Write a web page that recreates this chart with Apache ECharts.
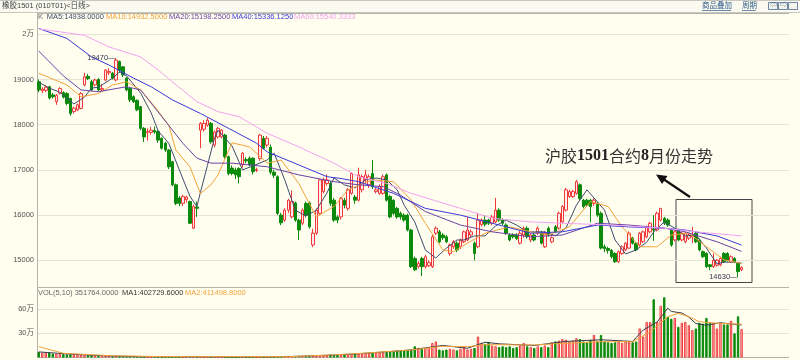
<!DOCTYPE html>
<html><head><meta charset="utf-8">
<script src="https://cdn.jsdelivr.net/npm/echarts@6/dist/echarts.min.js"></script>
<style>html,body{margin:0;padding:0;background:#FFFEEF}#c{width:800px;height:360px}</style>
</head><body><div id="c"></div>
<script>
// ---- data ----
const open = [18950,18750,18760,18840,18660,18510,18700,18710,18690,18580,
18290,18330,18360,18880,19070,18950,18880,19000,18770,18990,
19150,19140,18990,19400,19280,19030,18800,18620,18540,18400,
17920,17830,17830,17870,17850,17700,17590,17440,17180,16670,
16380,16260,16340,16300,15710,16180,17880,17900,17990,18030,
17550,17730,17730,17770,17290,17040,17000,17030,17110,17230,
17260,17260,16990,17250,17700,17550,17500,16950,16850,16000,
15890,16110,15960,16270,15890,15820,16260,16270,15340,15600,
16040,16520,16700,16700,16330,15960,15960,16330,16150,16480,
16400,16330,16560,16780,16670,16920,16520,16480,16480,16890,
16410,16330,16150,16040,16000,16000,15670,15040,14860,15040,
14860,14880,14860,15600,15630,15560,15520,15150,15300,15380,
15300,15410,15450,15560,15380,15300,15790,15890,15890,15820,
15850,16110,15890,15780,15560,15560,15560,15380,15560,15710,
15450,15560,15600,15600,15300,15710,15410,15740,15710,15850,
16110,16410,16410,16480,16670,16330,16330,16330,16260,16260,
16040,15300,15260,15220,15150,14970,15150,15230,15270,15490,
15380,15340,15410,15520,15630,15690,15670,15890,15930,15890,
15670,15450,15670,15450,15410,15490,15520,15600,15450,15190,
15150,14900,14860,14890,14900,15150,15150,14970,15040,14930,14790];
const close = [18770,18790,18830,18590,18620,18650,18800,18610,18470,18250,
18370,18440,18690,19060,19020,18770,18990,18770,18800,19210,
19180,19030,19430,19200,19100,18770,18550,18510,18330,17920,
17730,17850,17880,17840,17660,17480,17440,17070,16670,16260,
16260,16410,16400,15820,16190,16150,18030,18030,18100,17620,
17840,17920,17880,17290,16920,16920,16890,16850,17370,17200,
17110,16960,17010,17770,17480,17700,16950,16880,16040,15830,
16110,16330,16300,15890,15670,16110,16000,15740,15600,16110,
16780,16780,16780,16260,15890,15890,16370,16220,16560,16920,
16330,16890,16850,16890,16850,16630,16560,16630,16850,16330,
15960,16040,15960,15960,15890,15670,14860,14790,14930,14860,
15080,14950,15520,15710,15410,15500,15410,15340,15410,15230,
15450,15630,15670,15630,15150,15890,15890,15800,15820,15960,
16110,15890,15820,15600,15450,15520,15480,15600,15710,15520,
15560,15450,15710,15380,15600,15560,15500,15630,16040,16190,
16560,16520,16520,16740,16370,16190,16220,16190,16330,16000,
15270,15260,15220,15080,14970,15190,15300,15380,15600,15380,
15230,15600,15630,15740,15820,15670,16040,16150,15820,15780,
15340,15630,15450,15600,15600,15560,15540,15410,15230,15080,
14860,14860,15000,15000,15040,14970,15000,15080,14970,14750,14840];
const low = [18720,18700,18720,18560,18580,18440,18670,18580,18430,18200,
18250,18300,18340,18850,18990,18740,18850,18740,18740,18960,
19100,19000,18960,19150,19050,18740,18500,18480,18300,17880,
17620,17650,17780,17800,17600,17450,17400,17020,16640,16220,
16200,16200,16280,15800,15690,15960,17480,17850,17950,17580,
17500,17700,17700,17250,16880,16880,16800,16700,17050,17150,
17080,16900,16950,17200,17450,17500,16900,16820,16000,15780,
15850,16050,15930,15850,15450,15780,15950,15700,15290,15560,
16000,16480,16650,16200,15850,15820,15900,16150,16100,16450,
16250,16300,16500,16700,16600,16580,16480,16450,16450,16300,
15930,16000,15920,15900,15850,15640,14830,14760,14820,14650,
14820,14850,14830,15560,15380,15450,15380,15100,15250,15180,
15250,15380,15420,15500,15000,15270,15750,15750,15780,15780,
15820,15850,15780,15560,15420,15480,15450,15350,15500,15480,
15400,15420,15560,15350,15270,15520,15380,15600,15680,15820,
16080,16380,16380,16450,16330,16150,16180,15840,16200,15960,
15240,15180,15150,15040,14940,14940,15120,15200,15250,15350,
15200,15300,15380,15490,15600,15430,15640,15860,15780,15740,
15300,15420,15420,15420,15380,15450,15380,15380,15200,15050,
14830,14780,14830,14860,14870,14940,14970,14940,14940,14630,14760];
const high = [19000,18830,18870,18860,18700,18680,18830,18740,18720,18600,
18400,18470,18720,19150,19120,18990,19020,19030,18900,19230,
19250,19170,19470,19420,19300,19050,18820,18650,18560,18420,
17950,17920,17950,17960,17880,17720,17620,17460,17200,16700,
16420,16450,16430,16320,16230,16300,18060,18100,18150,18060,
17870,17950,17900,17800,17320,17100,17050,17060,17400,17280,
17300,17280,17050,17800,17750,17750,17560,17000,16880,16050,
16150,16360,16550,16300,15920,16150,16300,16300,15700,16150,
16800,16830,16900,16750,16380,16000,16400,16380,16600,16950,
16450,17050,16900,17000,16900,17220,16600,16680,16900,16920,
16450,16350,16180,16080,16040,16030,15700,15080,14980,15080,
15120,15000,15560,15750,15670,15600,15560,15370,15450,15420,
15480,15660,15960,15680,15420,16050,15930,16000,15920,16000,
16380,16150,15930,15820,15600,15600,15600,15650,15750,15750,
15600,15600,15750,15650,15650,15750,15530,15780,16080,16220,
16600,16560,16560,16780,16700,16360,16360,16360,16370,16290,
16080,15350,15300,15250,15180,15220,15330,15400,15640,15520,
15400,15630,15660,15770,15850,16000,16080,16150,15960,15930,
15700,15660,15700,15630,15630,15600,15740,15630,15480,15220,
15180,14920,15150,15030,15080,15180,15180,15110,15070,14960,14870];
// volume in 万 (10k lots)
const volume = [7,6,6,6.5,5,5,4.5,4.5,4,4,
3.5,3.5,3.5,3,3,3,2.5,2.5,2,2,
2,1.5,2,1.5,1.5,1.5,1.2,1.2,1.2,1.2,
1,1,1,1,1,1,1,1,1,1.2,
1,1,1,1.2,1,1,1,1,1,1,
1,0.8,0.8,1,1,0.8,0.8,1,0.8,0.8,
0.8,0.8,0.8,1,0.8,0.8,1,1,1.2,1.2,
1.5,1.5,1.5,2,2,2,2,2,2.5,2.5,
3,3,3,3.5,3.5,3.5,4,4,4,4.5,
5,5,5,5.5,6,6,6,6.5,7,7,
8,8,9,9,9,9,9.5,14,12,12,
12,13,18,20,10,9,10,11,10,9,
11,14,10,11,12,26,18,17,19,15,
14,13,14,13,14,12,13,15,18,14,
13,12,14,13,15,13,19,20,21,23,
22,20,21,24,23,20,19,22,28,20,
28,20,19,18,19,20,18,20,20,19,
20,36,26,44,44,72,44,64,74.5,50,
48,49,38,43,44,40,34,36,43,42,
49,43,43,36,43,41,41,45.5,30,51,35.18];
// moving-average lines as [candle index, value]
const ma5 = [[0,18940],[3,18810],[6,18720],[10,18460],[13,18610],[15,18810],[17,18830],[21,19030],[23,19170],[25,19080],[29,18700],[32,18260],[34,17860],[37,17590],[40,17000],[43,16420],[45,16190],[46,16500],[48,17100],[50,17700],[51,17880],[55,17530],[58,17000],[61,17090],[65,17220],[67,17370],[70,16780],[73,16110],[76,15980],[79,16110],[82,16490],[84,16820],[87,16670],[90,16600],[93,16780],[96,16820],[99,16780],[102,16560],[104,16220],[107,15850],[110,15230],[113,15050],[116,15270],[119,15450],[121,15450],[124,15540],[127,15540],[130,15760],[133,15890],[136,15780],[139,15630],[141,15630],[144,15630],[147,15540],[150,15710],[153,16220],[156,16560],[158,16380],[161,16110],[164,15450],[167,15140],[170,15230],[173,15400],[175,15630],[178,15850],[181,15710],[184,15540],[187,15560],[190,15270],[193,14920],[195,14960],[198,14960],[200,14938]];
const ma10 = [[0,19140],[8,18880],[12,18620],[15,18660],[17,18690],[21,18880],[25,18950],[29,18770],[33,18400],[37,17990],[39,17440],[43,17070],[46,16480],[49,16670],[51,16890],[55,17600],[60,17510],[65,17150],[69,17220],[74,16700],[79,15960],[84,16190],[88,16560],[95,16780],[101,16740],[106,16330],[110,15820],[115,15230],[118,15190],[122,15380],[127,15600],[134,15740],[140,15630],[145,15560],[151,15740],[157,16300],[162,16190],[166,15740],[171,15300],[176,15300],[180,15560],[185,15600],[190,15300],[195,15010],[200,14932]];
const ma20 = [[0,19630],[7,19080],[12,18770],[17,18730],[22,18800],[25,18840],[29,18770],[35,18180],[41,17590],[45,17260],[49,17150],[55,17150],[65,17070],[74,16890],[84,16740],[91,16670],[98,16630],[103,16440],[110,16080],[120,15780],[129,15630],[140,15520],[149,15560],[159,15820],[168,15780],[178,15710],[184,15630],[193,15410],[200,15198]];
const ma40 = [[0,20130],[8,19910],[15,19500],[20,19320],[27,19030],[32,18840],[38,18550],[46,18250],[55,17880],[62,17590],[65,17400],[74,17110],[82,16850],[86,16810],[91,16740],[101,16480],[110,16150],[120,16000],[129,15820],[140,15600],[149,15630],[159,15780],[168,15740],[178,15710],[184,15670],[193,15540],[200,15336]];
const ma60 = [[0,20120],[13,19980],[20,19720],[29,19500],[34,19210],[38,18950],[45,18510],[51,18290],[57,18180],[65,17810],[74,17510],[84,17150],[91,16850],[99,16700],[106,16480],[120,16150],[129,15930],[140,15850],[149,15820],[163,15780],[178,15710],[187,15630],[200,15540]];
const volMa1 = [[0,7],[5,5.5],[10,4],[15,3],[20,2],[25,1.6],[30,1.1],[40,1],[55,0.9],[65,0.9],[72,1.4],[80,2.5],[90,4.5],[100,7.5],[106,9.5],[110,12],[115,15],[122,11.5],[127,19],[131,17],[141,15],[150,20],[160,22],[169,20],[172,34],[176,44],[179,61],[180,57],[183,55],[185,50],[187,42],[190,40],[194,43],[197,41.5],[200,40.3]];
const volMa2 = [[0,13.5],[7,5.3],[21,2.3],[35,1.2],[71,1.1],[83,3.2],[92,5.3],[106,9.4],[115,14],[122,13.5],[127,16],[141,15.6],[150,17.7],[160,19.6],[169,19.6],[174,32],[179,50.5],[182,54.7],[185,50.5],[188,44.3],[193,42.4],[200,41.1]];
const blankSlots = 13;
const yTickLabels = {20000:'2万',19000:'19000',18000:'18000',17000:'17000',16000:'16000',15000:'15000'};
const volTickLabels = {30:'30万',60:'60万'};
const legendMain = ['MA5:14938.0000','MA10:14932.5000','MA20:15198.2500','MA40:15336.1250','MA60:15540.3333'];
const legendVol = ['VOL(5,10) 351764.0000','MA1:402729.6000','MA2:411498.8000'];

// ---- build ----
const UP='#F03A3A', UPFILL='#FFEDED', DN='#0B8A0B', GRID='#E6E4D2', BORDER='#B4B4AA';
const MA_COLORS=['#3E4C6E','#F4A23A','#6A44A4','#3A3AD8','#F2A2F0'];
const categories=[];
for(let i=0;i<open.length+blankSlots;i++) categories.push(i<open.length?String(i+1):'');
const kData=open.map((o,i)=>[o,close[i],low[i],high[i]]);
const volData=volume.map((v,i)=>({value:v,itemStyle:close[i]>=open[i]?{color:'#FFD8D8',borderColor:UP,borderWidth:1}:{color:DN,borderColor:DN,borderWidth:1}}));
const maxHigh=Math.max(...high), hiIdx=high.indexOf(maxHigh);
const minLow=Math.min(...low), loIdx=low.indexOf(minLow);
const FONT='"Liberation Sans", Arial, "Noto Sans CJK SC", sans-serif';
function maLine(name,data,color,x,y){return {name,type:'line',xAxisIndex:x,yAxisIndex:y,data,showSymbol:false,symbol:'none',lineStyle:{width:1,color},itemStyle:{color},z:3,silent:true};}

const chart=echarts.init(document.getElementById('c'),null,{renderer:'canvas'});
const legendX=[46.7,106,169,232,294];
const gText=[];
gText.push({type:'text',left:38,top:13.5,style:{text:'K',fill:'#666',font:'7.5px '+FONT}});
legendMain.forEach((t,i)=>gText.push({type:'text',left:legendX[i],top:13.5,style:{text:t,fill:MA_COLORS[i],font:'7.5px '+FONT}}));
const volX=[38,122,185], volC=['#666','#333','#F4A23A'];
legendVol.forEach((t,i)=>gText.push({type:'text',left:volX[i],top:289,style:{text:t,fill:volC[i],font:'7.5px '+FONT}}));

const option={
  animation:false,
  backgroundColor:'#FFFEEF',
  textStyle:{fontFamily:FONT},
  grid:[{left:37,right:11,top:13,height:292.5},{left:37,right:11,top:287.1,height:70.5}],
  xAxis:[
    {type:'category',gridIndex:0,data:categories,axisLine:{show:false},axisTick:{show:false},axisLabel:{show:false},splitLine:{show:false}},
    {type:'category',gridIndex:1,data:categories,axisLine:{show:false},axisTick:{show:false},axisLabel:{show:false},splitLine:{show:false}}
  ],
  yAxis:[
    {type:'value',gridIndex:0,min:14000,max:20472,interval:1000,
     axisLine:{show:true,lineStyle:{color:BORDER}},axisTick:{show:false},
     axisLabel:{fontSize:7.5,color:'#555',margin:3,formatter:v=>yTickLabels[v]||''},
     splitLine:{show:true,lineStyle:{width:1,color:['rgba(0,0,0,0)',GRID,GRID,GRID,GRID,GRID,GRID,BORDER]}}},
    {type:'value',gridIndex:1,min:0,max:87,interval:30,
     axisLine:{show:true,lineStyle:{color:BORDER}},axisTick:{show:false},
     axisLabel:{fontSize:7.5,color:'#555',margin:3,formatter:v=>volTickLabels[v]||''},
     splitLine:{show:true,lineStyle:{width:1,color:[BORDER,GRID,GRID,BORDER]}}}
  ],
  series:[
    {type:'candlestick',name:'K',xAxisIndex:0,yAxisIndex:0,data:kData,barWidth:3,
     itemStyle:{color:UPFILL,color0:DN,borderColor:UP,borderColor0:DN,borderWidth:1},
     markPoint:{symbol:'circle',symbolSize:1,itemStyle:{color:'rgba(0,0,0,0)'},
       label:{show:true,position:'left',distance:0,fontSize:7.5,color:'#333355',formatter:p=>p.value+'—'},
       data:[{coord:[hiIdx,maxHigh],value:maxHigh},{coord:[loIdx,minLow],value:minLow}]}},
    maLine('MA5',ma5,MA_COLORS[0],0,0),
    maLine('MA10',ma10,MA_COLORS[1],0,0),
    maLine('MA20',ma20,MA_COLORS[2],0,0),
    maLine('MA40',ma40,MA_COLORS[3],0,0),
    maLine('MA60',ma60,MA_COLORS[4],0,0),
    {type:'bar',name:'VOL',xAxisIndex:1,yAxisIndex:1,data:volData,barWidth:2.4},
    maLine('MA1',volMa1,'#3A3A4A',1,1),
    maLine('MA2',volMa2,'#F4A23A',1,1)
  ],
  graphic:[
    {type:'rect',shape:{x:0,y:0,width:800,height:12.5},style:{fill:'#FAFAF0'},z:-1},
    {type:'line',shape:{x1:0,y1:0.5,x2:800,y2:0.5},style:{stroke:'#C8C8C0',lineWidth:1}},
    {type:'line',shape:{x1:0,y1:12.5,x2:800,y2:12.5},style:{stroke:'#C8C8C0',lineWidth:1}},
    {type:'text',left:2,top:2,style:{text:'橡胶1501 (010T01)<日线>',fill:'#444',font:'7.5px '+FONT}},
    {type:'text',left:702,top:2,style:{text:'商品叠加',fill:'#2E5A8A',font:'7.5px '+FONT}},
    {type:'line',shape:{x1:702,y1:10.5,x2:731,y2:10.5},style:{stroke:'#2E5A8A',lineWidth:0.7}},
    {type:'text',left:742,top:2,style:{text:'周期',fill:'#2E5A8A',font:'7.5px '+FONT}},
    {type:'line',shape:{x1:742,y1:10.5,x2:756,y2:10.5},style:{stroke:'#2E5A8A',lineWidth:0.7}},
    {type:'rect',shape:{x:768.5,y:2.5,width:9,height:7},style:{fill:'#F4F4EC',stroke:'#4A6A90',lineWidth:0.8}},
    {type:'rect',shape:{x:778.5,y:2.5,width:9,height:7},style:{fill:'#F4F4EC',stroke:'#4A6A90',lineWidth:0.8}},
    {type:'rect',shape:{x:788.5,y:2.5,width:9,height:7},style:{fill:'#F4F4EC',stroke:'#4A6A90',lineWidth:0.8}},
    {type:'text',left:770,top:2,style:{text:'⇦',fill:'#4A6A90',font:'7px '+FONT}},
    {type:'text',left:780,top:2,style:{text:'⇨',fill:'#4A6A90',font:'7px '+FONT}},
    ...gText,
    {type:'text',left:545,top:148,style:{rich:{n:{fontSize:16,fontFamily:'"Noto Sans CJK SC"',fill:'#333'},b:{fontSize:16,fontWeight:'bold',fontFamily:'"Liberation Serif", serif',fill:'#222'}},text:'{n|沪胶}{b|1501}{n|合约}{b|8}{n|月份走势}'}},
    {type:'line',shape:{x1:690,y1:197,x2:664,y2:179.5},style:{stroke:'#111',lineWidth:2.2}},
    {type:'polygon',shape:{points:[[656,174.5],[667.5,176],[662,184]]},style:{fill:'#111'}},
    {type:'rect',shape:{x:676,y:199.5,width:76,height:83},style:{fill:'none',stroke:'#444',lineWidth:1}}
  ]
};
chart.setOption(option);
</script></body></html>
